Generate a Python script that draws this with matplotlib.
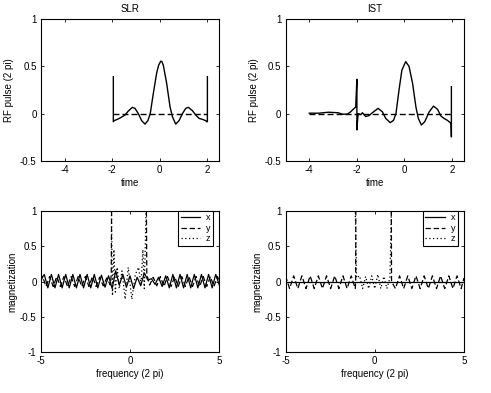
import matplotlib

matplotlib.use("Agg")
import matplotlib.pyplot as plt

# ---- RF pulses (time, amplitude in units of 2 pi) ----
slr_t = [-1.95, -1.95, -1.92, -1.78, -1.64, -1.46, -1.32, -1.15, -1.04, -0.90, -0.76,
         -0.62, -0.50, -0.40, -0.27, -0.13, -0.05, 0.04, 0.09, 0.15, 0.29, 0.43, 0.53,
         0.67, 0.81, 0.95, 1.09, 1.20, 1.37, 1.51, 1.65, 1.79, 1.93, 1.97, 2.0, 2.0]
slr_rf = [0.39, -0.085, -0.074, -0.06, -0.042, -0.014, 0.028, 0.067, 0.056, 0.0, -0.074,
          -0.11, -0.074, 0.0, 0.215, 0.43, 0.51, 0.555, 0.55, 0.51, 0.32, 0.074, -0.032,
          -0.11, -0.074, 0.0, 0.056, 0.067, 0.032, -0.014, -0.05, -0.06, -0.074, -0.085,
          -0.085, 0.39]
slr_imag_t = [-1.95, 2.0]
slr_imag = [0.0, 0.0]

ist_t = [-4.0, -3.6, -3.2, -2.8, -2.6, -2.4, -2.26, -2.12, -2.05, -2.0, -2.0, -1.95,
         -1.83, -1.77, -1.63, -1.49, -1.35, -1.11, -0.93, -0.79, -0.60, -0.46, -0.36,
         -0.23, -0.11, 0.05, 0.19, 0.34, 0.48, 0.58, 0.71, 0.85, 1.04, 1.22, 1.39, 1.53,
         1.66, 1.80, 1.92, 1.96, 1.97, 1.97]
ist_rf = [0.005, 0.005, 0.015, 0.01, -0.005, -0.005, 0.02, 0.055, 0.07, 0.363, -0.172,
          0.0, -0.01, 0.01, -0.03, -0.02, 0.01, 0.056, 0.02, -0.05, -0.095, -0.07, 0.0,
          0.25, 0.46, 0.55, 0.50, 0.32, 0.07, -0.05, -0.12, -0.085, 0.02, 0.08, 0.045,
          -0.025, -0.05, -0.07, -0.095, -0.11, -0.245, 0.285]
ist_imag_t = [-4.0, 2.0]
ist_imag = [0.0, 0.0]

# ---- magnetization profiles (frequency in units of 2 pi) ----
slr_mx_f = [-5.0, -4.8, -4.6, -4.4, -4.2, -4.0, -3.8, -3.6, -3.4, -3.2, -3.0, -2.8, -2.6,
            -2.4, -2.2, -2.0, -1.8, -1.6, -1.4, -1.2, -1.0, -0.8, -0.6, -0.4, -0.2, 0.0,
            0.2, 0.4, 0.6, 0.8, 1.0, 1.2, 1.4, 1.6, 1.8, 2.0, 2.2, 2.4, 2.6, 2.8, 3.0, 3.2,
            3.4, 3.6, 3.8, 4.0, 4.2, 4.4, 4.6, 4.8, 5.0]
slr_mx = [0.02, 0.10, -0.09, 0.10, -0.09, 0.10, -0.09, 0.10, -0.09, 0.10, -0.09, 0.10,
          -0.09, 0.10, -0.09, 0.10, -0.09, 0.09, -0.08, 0.08, -0.10, 0.15, -0.05, 0.10,
          -0.08, 0.08, -0.10, 0.06, -0.06, 0.12, 0.02, 0.04, -0.04, 0.06, -0.07, 0.08,
          -0.09, 0.10, -0.09, 0.10, -0.09, 0.10, -0.09, 0.10, -0.09, 0.10, -0.09, 0.10,
          -0.09, 0.10, -0.05]

slr_my_f = [-5.0, -4.9, -4.7, -4.5, -4.3, -4.1, -3.9, -3.7, -3.5, -3.3, -3.1, -2.9, -2.7,
            -2.5, -2.3, -2.1, -1.9, -1.7, -1.5, -1.3, -1.1, -1.05, -1.03, 0.92, 0.94, 1.1,
            1.3, 1.5, 1.7, 1.9, 2.1, 2.3, 2.5, 2.7, 2.9, 3.1, 3.3, 3.5, 3.7, 3.9, 4.1, 4.3,
            4.5, 4.7, 4.9, 5.0]
slr_my = [0.0, 0.07, -0.07, 0.07, -0.07, 0.07, -0.07, 0.07, -0.07, 0.07, -0.07, 0.07,
          -0.07, 0.07, -0.07, 0.07, -0.07, 0.06, -0.06, 0.05, -0.05, 0.1, 1.0, 1.0, 0.1,
          -0.05, 0.06, -0.06, 0.07, -0.07, 0.07, -0.07, 0.07, -0.07, 0.07, -0.07, 0.07,
          -0.07, 0.07, -0.07, 0.07, -0.07, 0.07, -0.07, 0.07, 0.0]

slr_mz_f = [-5.0, -1.04, -0.98, -0.9, -0.82, -0.72, -0.6, -0.45, -0.27, -0.1, 0.1, 0.3,
            0.48, 0.62, 0.72, 0.8, 0.9, 5.0]
slr_mz = [1.0, 1.0, -0.2, 0.45, -0.15, 0.2, -0.1, 0.15, -0.25, 0.2, -0.25, 0.1, 0.2,
          -0.05, 0.45, -0.1, 1.0, 1.0]

ist_mx_f = [-5.0, 5.0]
ist_mx = [0.0, 0.0]

ist_my_f = [-5.0, -4.77, -4.54, -4.31, -4.08, -3.85, -3.62, -3.39, -3.16, -2.93, -2.7,
            -2.47, -2.24, -2.01, -1.78, -1.55, -1.32, -1.09, -1.07, -1.06, 0.93, 0.94,
            1.16, 1.39, 1.62, 1.85, 2.08, 2.31, 2.54, 2.77, 3.0, 3.23, 3.46, 3.69, 3.92,
            4.15, 4.38, 4.61, 4.84, 5.0]
ist_my = [0.08, -0.1, 0.08, -0.1, 0.08, -0.1, 0.08, -0.1, 0.08, -0.1, 0.08, -0.1, 0.08,
          -0.1, 0.08, -0.1, 0.08, -0.1, 0.0, 1.0, 1.0, 0.0, -0.1, 0.08, -0.1, 0.08, -0.1,
          0.08, -0.1, 0.08, -0.1, 0.08, -0.1, 0.08, -0.1, 0.08, -0.1, 0.08, -0.1, 0.05]

ist_mz_f = [-5.0, -1.09, -1.02, -0.85, -0.68, -0.51, -0.34, -0.17, 0.0, 0.17, 0.34, 0.51,
            0.68, 0.85, 0.93, 5.0]
ist_mz = [1.0, 1.0, 0.05, 0.08, -0.1, 0.07, -0.1, 0.08, -0.1, 0.1, -0.1, 0.07, -0.1,
          0.05, 1.0, 1.0]

TITLES = ["SLR", "IST"]
FS = 7
DASHED = (0, (4.3, 2.2))
DOTTED = (0, (1.0, 2.0))

plt.rcParams.update({
    "font.family": ["Liberation Sans", "DejaVu Sans"],
    "font.size": FS,
    "axes.linewidth": 0.8,
    "xtick.direction": "in",
    "ytick.direction": "in",
    "xtick.top": True,
    "ytick.right": True,
    "xtick.major.size": 2.5,
    "ytick.major.size": 2.5,
    "xtick.major.width": 0.6,
    "ytick.major.width": 0.6,
    "xtick.major.pad": 3,
    "ytick.major.pad": 3,
})

fig = plt.figure(figsize=(4.91, 3.93), dpi=100)
W, H = 491, 393


def add_axes(left, top, right, bottom):
    return fig.add_axes([left / W, 1 - bottom / H, (right - left) / W, (bottom - top) / H])


ax_slr = add_axes(40.7, 19, 219.3, 161)
ax_ist = add_axes(285.5, 19, 464, 161)
ax_slr_m = add_axes(40.7, 210.7, 219.3, 352.3)
ax_ist_m = add_axes(285.5, 210.7, 464, 352.3)

# top row: pulses
ax_slr.plot(slr_t, slr_rf, color="black", lw=1.0)
ax_slr.plot(slr_imag_t, slr_imag, color="black", lw=1.0, linestyle=DASHED)
ax_ist.plot(ist_t, ist_rf, color="black", lw=1.0)
ax_ist.plot(ist_imag_t, ist_imag, color="black", lw=1.0, linestyle=DASHED)

for ax, title in zip([ax_slr, ax_ist], TITLES):
    ax.set_xlim(-5, 2.5)
    ax.set_ylim(-0.5, 1)
    ax.set_xticks([-4, -2, 0, 2], ["-4", "-2", "0", "2"])
    ax.set_yticks([-0.5, 0, 0.5, 1], ["-0.5", "0", "0.5", "1"])
    ax.set_title(title, fontsize=FS, pad=5)
    ax.set_xlabel("time", labelpad=2)
    ax.set_ylabel("RF pulse (2 pi)", labelpad=4)

# bottom row: magnetization
for ax, (fx, mx, fy, my, fz, mz) in zip(
    [ax_slr_m, ax_ist_m],
    [(slr_mx_f, slr_mx, slr_my_f, slr_my, slr_mz_f, slr_mz),
     (ist_mx_f, ist_mx, ist_my_f, ist_my, ist_mz_f, ist_mz)],
):
    ax.plot(fx, mx, color="black", lw=0.9, label="x")
    ax.plot(fy, my, color="black", lw=0.9, linestyle=DASHED, label="y")
    ax.plot(fz, mz, color="black", lw=0.9, linestyle=DOTTED, label="z")
    ax.set_xlim(-5, 5)
    ax.set_ylim(-1, 1)
    ax.set_xticks([-5, 0, 5], ["-5", "0", "5"])
    ax.set_yticks([-1, -0.5, 0, 0.5, 1], ["-1", "-0.5", "0", "0.5", "1"])
    ax.set_xlabel("frequency (2 pi)", labelpad=2)
    ax.set_ylabel("magnetization", labelpad=2)
    leg = ax.legend(loc="upper right", bbox_to_anchor=(0.965, 1.0), borderaxespad=0,
                    fontsize=6.5, handlelength=2.2, labelspacing=0.15, borderpad=0.3,
                    handletextpad=0.6, fancybox=False, framealpha=1)
    leg.get_frame().set_edgecolor("black")
    leg.get_frame().set_linewidth(0.8)

fig.savefig("out.png", dpi=100)
